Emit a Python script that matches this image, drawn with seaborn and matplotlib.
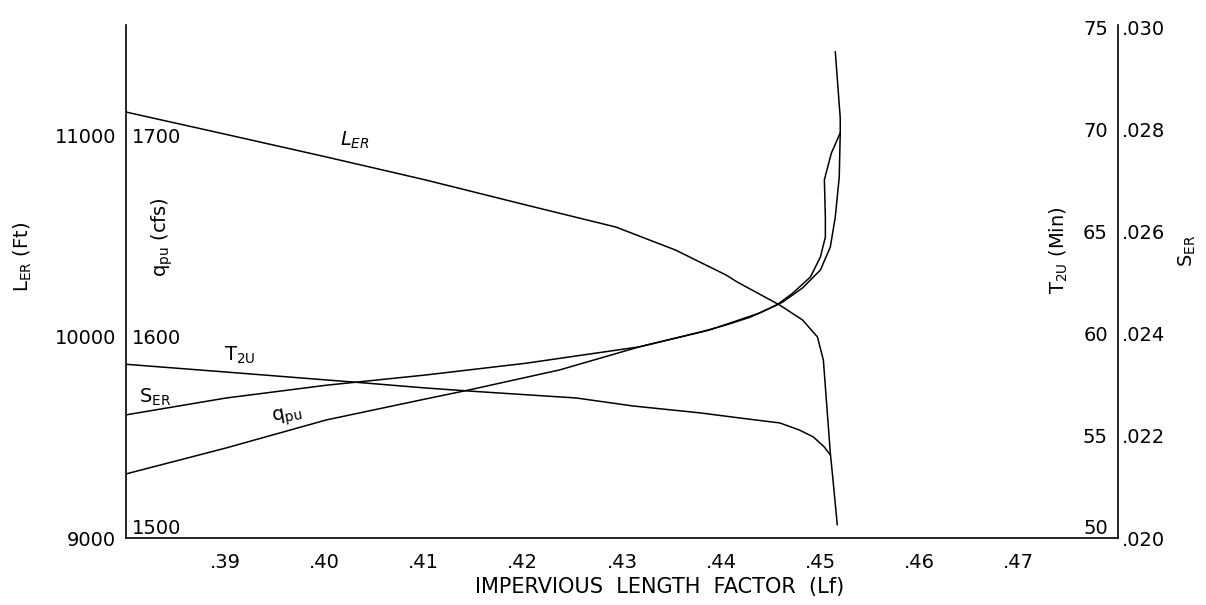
import matplotlib
matplotlib.use('Agg')
import matplotlib.pyplot as plt
import seaborn as sns

# Values (x = impervious length factor Lf)
ler_x = [0.3800, 0.3901, 0.4002, 0.4102, 0.4203, 0.4294, 0.4354, 0.4405, 0.4416,
         0.4459, 0.4482, 0.4497, 0.4503, 0.4506, 0.4510, 0.4513, 0.4517]
ler_ft = [11114, 11003, 10891, 10777, 10653, 10543, 10429, 10305, 10271,
          10156, 10082, 9998, 9883, 9685, 9422, 9273, 9065]

t2u_x = [0.3800, 0.3901, 0.4042, 0.4102, 0.4146, 0.4254, 0.4311, 0.4379, 0.4419,
         0.4459, 0.4479, 0.4493, 0.4504, 0.4510]
t2u_min = [58.50, 58.12, 57.58, 57.34, 57.19, 56.85, 56.46, 56.12, 55.87,
           55.63, 55.28, 54.94, 54.45, 54.06]

ser_x = [0.3800, 0.3901, 0.4002, 0.4102, 0.4203, 0.4317, 0.4379, 0.4405, 0.4429,
         0.4456, 0.4472, 0.4490, 0.4500, 0.4505, 0.4505, 0.4504, 0.4511, 0.4520]
ser_slope = [0.02241, 0.02274, 0.02299, 0.02319, 0.02342, 0.02374, 0.02403, 0.02417, 0.02432,
             0.02456, 0.02479, 0.02511, 0.02550, 0.02589, 0.02628, 0.02701, 0.02753, 0.02793]

qpu_x = [0.3800, 0.3901, 0.4002, 0.4102, 0.4146, 0.4237, 0.4317, 0.4388, 0.4439,
         0.4462, 0.4482, 0.4500, 0.4510, 0.4515, 0.4519, 0.4520, 0.4520, 0.4515]
qpu_cfs = [1531.8, 1544.7, 1558.6, 1569.0, 1573.5, 1583.4, 1594.8, 1603.2, 1611.7,
           1617.1, 1624.1, 1633.0, 1644.4, 1659.3, 1679.2, 1701.0, 1708.4, 1741.4]

# Axis ticks
x_ticks = [0.39, 0.40, 0.41, 0.42, 0.43, 0.44, 0.45, 0.46, 0.47]
x_tick_labels = ['.39', '.40', '.41', '.42', '.43', '.44', '.45', '.46', '.47']
ler_ticks = [9000, 10000, 11000]
qpu_ticks = [1500, 1600, 1700]
t2u_ticks = [50, 55, 60, 65, 70, 75]
ser_ticks = [0.020, 0.022, 0.024, 0.026, 0.028, 0.030]
ser_tick_labels = ['.020', '.022', '.024', '.026', '.028', '.030']

sns.set_theme(style='white')
plt.rcParams['font.family'] = ['DejaVu Sans']
plt.rcParams['mathtext.fontset'] = 'dejavusans'

fs = 14
fig = plt.figure(figsize=(12.06, 6.05), dpi=100)
ax = fig.add_axes([126 / 1206, 67 / 605, 992 / 1206, 513 / 605])
ax_q = ax.twinx()
ax_t = ax.twinx()
ax_s = ax.twinx()

line_kw = dict(color='black', linewidth=1.1, sort=False, estimator=None)
sns.lineplot(x=ler_x, y=ler_ft, ax=ax, **line_kw)
sns.lineplot(x=qpu_x, y=qpu_cfs, ax=ax_q, **line_kw)
sns.lineplot(x=t2u_x, y=t2u_min, ax=ax_t, **line_kw)
sns.lineplot(x=ser_x, y=ser_slope, ax=ax_s, **line_kw)

ax.set_xlim(0.38, 0.48)
ax.set_ylim(9000, 11546)
ax_q.set_ylim(1500, 1754.6)
ax_t.set_ylim(50, 75.1)
ax_s.set_ylim(0.020, 0.03004)

for a in (ax, ax_q, ax_t, ax_s):
    a.set_xlabel('')
    a.set_ylabel('')
    for s in a.spines.values():
        s.set_visible(False)
for a, side in ((ax, 'left'), (ax, 'bottom'), (ax_t, 'right')):
    a.spines[side].set_visible(True)
    a.spines[side].set_color('black')
    a.spines[side].set_linewidth(1.2)

# x axis
ax.set_xticks(x_ticks, x_tick_labels)
ax.tick_params(axis='x', length=0, pad=11, labelsize=fs, labelcolor='black')

# L_ER: outside left
ax.set_yticks(ler_ticks, [str(v) for v in ler_ticks])
ax.tick_params(axis='y', length=0, pad=7, labelsize=fs, labelcolor='black')

# q_pu: inside left
ax_q.yaxis.tick_left()
ax_q.set_yticks(qpu_ticks, [str(v) for v in qpu_ticks])
ax_q.tick_params(axis='y', length=0, pad=-4.5, labelsize=fs, labelcolor='black')
plt.setp(ax_q.get_yticklabels(), ha='left')
ax_q.get_yticklabels()[0].set_va('bottom')

# T2U: inside right
ax_t.set_yticks(t2u_ticks, [str(v) for v in t2u_ticks])
ax_t.tick_params(axis='y', length=0, pad=-7.2, labelsize=fs, labelcolor='black')
plt.setp(ax_t.get_yticklabels(), ha='right')
ax_t.get_yticklabels()[0].set_va('bottom')

# S_ER: outside right
ax_s.set_yticks(ser_ticks, ser_tick_labels)
ax_s.tick_params(axis='y', length=0, pad=3, labelsize=fs, labelcolor='black')

# axis titles
tkw = dict(transform=ax.transAxes, ha='center', va='center', fontsize=fs, color='black')
ax.text(-0.1038, 0.548, r'L$_{\mathrm{ER}}$ (Ft)', rotation=90, **tkw)
ax.text(0.0363, 0.587, r'q$_{\mathrm{pu}}$ (cfs)', rotation=90, **tkw)
ax.text(0.9405, 0.561, r'T$_{\mathrm{2U}}$ (Min)', rotation=90, **tkw)
ax.text(1.0696, 0.560, r'S$_{\mathrm{ER}}$', rotation=90, **tkw)
ax.text(0.5383, -0.0955, 'IMPERVIOUS  LENGTH  FACTOR  (Lf)',
        **{**tkw, 'fontsize': 15})

# curve labels
ax.text(0.2308, 0.7758, r'$L_{ER}$', **tkw)
ax.text(0.1149, 0.3567, r'T$_{\mathrm{2U}}$', **tkw)
ax.text(0.0292, 0.2749, r'S$_{\mathrm{ER}}$', **tkw)
ax.text(0.1623, 0.2359, r'q$_{\mathrm{pu}}$', rotation=10, **tkw)

fig.savefig('out.png', dpi=100)
